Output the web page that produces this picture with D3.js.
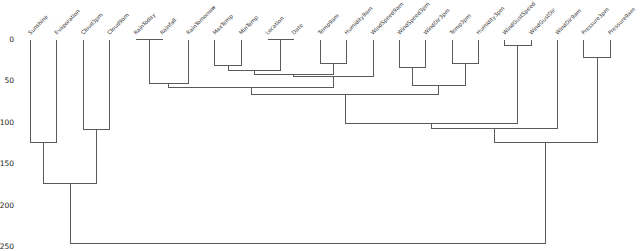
<!DOCTYPE html>
<html>
<head>
<meta charset="utf-8">
<script src="https://cdn.jsdelivr.net/npm/d3@7"></script>
<style>
  body { margin: 0; background: #fff; }
  svg { display: block; }
</style>
</head>
<body>
<div id="chart"></div>
<script>
(function () {
    "use strict";

// leaves, left to right as drawn
var leaves = ["Sunshine", "Evaporation", "Cloud3pm", "Cloud9am", "RainToday", "Rainfall",
    "RainTomorrow", "MaxTemp", "MinTemp", "Location", "Date", "Temp9am", "Humidity9am",
    "WindSpeed9am", "WindSpeed3pm", "WindDir3pm", "Temp3pm", "Humidity3pm",
    "WindGustSpeed", "WindGustDir", "WindDir9am", "Pressure3pm", "Pressure9am"];

// linkage rows: left node, right node (new nodes numbered from leaves.length)
var mergeLeft  = [4, 9, 18, 21, 11, 16, 7, 14, 29, 31, 32, 23, 30, 34, 36, 37, 38, 2, 39, 0, 42, 43];
var mergeRight = [5, 10, 19, 22, 12, 17, 8, 15, 24, 27, 13, 6, 28, 33, 35, 25, 20, 3, 26, 1, 40, 41];
var mergeHeight = [0, 0, 6.9, 21.0, 28.9, 28.9, 31.0, 33.0, 37.0, 42.2, 44.2, 52.3, 55.1,
    57.1, 65.9, 101.3, 107.5, 107.8, 123.4, 124.2, 172.9, 245];

var yTicks = [0, 50, 100, 150, 200, 250];

var width = 640,
    height = 251;

var n = leaves.length,
    maxHeight = d3.max(mergeHeight);

var x = d3.scaleLinear()
    .domain([0, n * 10])
    .range([16.8, 622.9]);

var y = d3.scaleLinear()
    .domain([0, maxHeight * 1.05])
    .range([39.3, 39.3 + maxHeight * 1.05 * 0.8296]);

// node positions: leaves first, then each merge at the middle of its children
var nodeX = leaves.map(function (d, i) { return x(5 + i * 10); }),
    nodeH = leaves.map(function () { return 0; });

mergeLeft.forEach(function (l, i) {
    var r = mergeRight[i];
    nodeX.push((nodeX[l] + nodeX[r]) / 2);
    nodeH.push(mergeHeight[i]);
});

var svg = d3.select("#chart").append("svg")
    .attr("width", width)
    .attr("height", height);

svg.append("rect")
    .attr("width", width)
    .attr("height", height)
    .attr("fill", "#fff");

var links = mergeLeft.map(function (l, i) {
    return { l: l, r: mergeRight[i], h: mergeHeight[i] };
});

var line = d3.line();

svg.append("g")
    .attr("class", "links")
    .selectAll("path")
    .data(links)
    .enter().append("path")
    .attr("fill", "none")
    .attr("stroke", "#5a5a5a")
    .attr("stroke-width", 1)
    .attr("shape-rendering", "crispEdges")
    .attr("d", function (d) {
        return line([
            [Math.round(nodeX[d.l]) + 0.5, Math.round(y(nodeH[d.l])) + 0.5],
            [Math.round(nodeX[d.l]) + 0.5, Math.round(y(d.h)) + 0.5],
            [Math.round(nodeX[d.r]) + 0.5, Math.round(y(d.h)) + 0.5],
            [Math.round(nodeX[d.r]) + 0.5, Math.round(y(nodeH[d.r])) + 0.5]
        ]);
    });

// y tick labels, no axis line
svg.append("g")
    .attr("class", "yticks")
    .selectAll("text")
    .data(yTicks)
    .enter().append("text")
    .attr("x", 14)
    .attr("y", function (d) { return y(d); })
    .attr("dy", "0.35em")
    .attr("text-anchor", "end")
    .attr("font-family", "DejaVu Sans, sans-serif")
    .attr("font-size", 7.5)
    .attr("fill", "#222")
    .text(function (d) { return d; });

// leaf labels rotated 45 degrees
svg.append("g")
    .attr("class", "leafLabels")
    .selectAll("text")
    .data(leaves)
    .enter().append("text")
    .attr("transform", function (d, i) {
        return "translate(" + (nodeX[i] + 0.5) + ",35) rotate(-45)";
    })
    .attr("text-anchor", "start")
    .attr("font-family", "DejaVu Sans, sans-serif")
    .attr("font-size", 5.5)
    .attr("fill", "#333")
    .text(function (d) { return d; });

})();
</script>
</body>
</html>
